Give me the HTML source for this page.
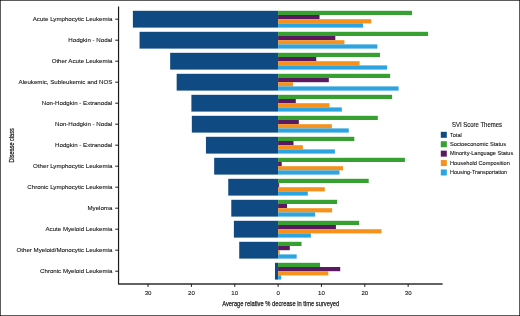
<!DOCTYPE html>
<html lang="en">
<head>
<meta charset="utf-8">
<title>SVI Score Themes</title>
<style>html,body{margin:0;padding:0;background:#fff;overflow:hidden}body{width:520px;height:316px;position:relative}</style>
</head>
<body>
<svg width="520" height="316" viewBox="0 0 520 316" style="position:absolute;left:0;top:0" font-family="'Liberation Sans', sans-serif">
<rect x="0" y="0" width="520" height="316" fill="#fff"/>
<rect x="132.88" y="10.80" width="145.22" height="16.80" fill="#0f4b82"/>
<rect x="278.10" y="10.80" width="133.95" height="4.20" fill="#36a030"/>
<rect x="278.10" y="15.00" width="41.44" height="4.20" fill="#591a60"/>
<rect x="278.10" y="19.20" width="93.20" height="4.20" fill="#f6921c"/>
<rect x="278.10" y="23.40" width="84.97" height="4.20" fill="#2ca4df"/>
<rect x="139.55" y="31.80" width="138.55" height="16.80" fill="#0f4b82"/>
<rect x="278.10" y="31.80" width="149.99" height="4.20" fill="#36a030"/>
<rect x="278.10" y="36.00" width="57.22" height="4.20" fill="#591a60"/>
<rect x="278.10" y="40.20" width="66.33" height="4.20" fill="#f6921c"/>
<rect x="278.10" y="44.40" width="99.27" height="4.20" fill="#2ca4df"/>
<rect x="170.16" y="52.80" width="107.94" height="16.80" fill="#0f4b82"/>
<rect x="278.10" y="52.80" width="101.87" height="4.20" fill="#36a030"/>
<rect x="278.10" y="57.00" width="38.15" height="4.20" fill="#591a60"/>
<rect x="278.10" y="61.20" width="81.50" height="4.20" fill="#f6921c"/>
<rect x="278.10" y="65.40" width="109.03" height="4.20" fill="#2ca4df"/>
<rect x="176.66" y="73.80" width="101.44" height="16.80" fill="#0f4b82"/>
<rect x="278.10" y="73.80" width="112.06" height="4.20" fill="#36a030"/>
<rect x="278.10" y="78.00" width="50.72" height="4.20" fill="#591a60"/>
<rect x="278.10" y="82.20" width="14.91" height="4.20" fill="#f6921c"/>
<rect x="278.10" y="86.40" width="120.51" height="4.20" fill="#2ca4df"/>
<rect x="191.40" y="94.80" width="86.70" height="16.80" fill="#0f4b82"/>
<rect x="278.10" y="94.80" width="114.01" height="4.20" fill="#36a030"/>
<rect x="278.10" y="99.00" width="17.69" height="4.20" fill="#591a60"/>
<rect x="278.10" y="103.20" width="51.37" height="4.20" fill="#f6921c"/>
<rect x="278.10" y="107.40" width="63.72" height="4.20" fill="#2ca4df"/>
<rect x="191.83" y="115.80" width="86.27" height="16.80" fill="#0f4b82"/>
<rect x="278.10" y="115.80" width="99.70" height="4.20" fill="#36a030"/>
<rect x="278.10" y="120.00" width="20.72" height="4.20" fill="#591a60"/>
<rect x="278.10" y="124.20" width="53.75" height="4.20" fill="#f6921c"/>
<rect x="278.10" y="128.40" width="70.66" height="4.20" fill="#2ca4df"/>
<rect x="205.92" y="136.80" width="72.18" height="16.80" fill="#0f4b82"/>
<rect x="278.10" y="136.80" width="76.21" height="4.20" fill="#36a030"/>
<rect x="278.10" y="141.00" width="15.39" height="4.20" fill="#591a60"/>
<rect x="278.10" y="145.20" width="24.80" height="4.20" fill="#f6921c"/>
<rect x="278.10" y="149.40" width="56.79" height="4.20" fill="#2ca4df"/>
<rect x="214.16" y="157.80" width="63.94" height="16.80" fill="#0f4b82"/>
<rect x="278.10" y="157.80" width="126.80" height="4.20" fill="#36a030"/>
<rect x="278.10" y="162.00" width="3.64" height="4.20" fill="#591a60"/>
<rect x="278.10" y="166.20" width="64.89" height="4.20" fill="#f6921c"/>
<rect x="278.10" y="170.40" width="61.38" height="4.20" fill="#2ca4df"/>
<rect x="228.25" y="178.80" width="49.85" height="16.80" fill="#0f4b82"/>
<rect x="278.10" y="178.80" width="90.60" height="4.20" fill="#36a030"/>
<rect x="278.10" y="183.00" width="1.08" height="4.20" fill="#591a60"/>
<rect x="278.10" y="187.20" width="46.69" height="4.20" fill="#f6921c"/>
<rect x="278.10" y="191.40" width="29.69" height="4.20" fill="#2ca4df"/>
<rect x="231.28" y="199.80" width="46.82" height="16.80" fill="#0f4b82"/>
<rect x="278.10" y="199.80" width="58.96" height="4.20" fill="#36a030"/>
<rect x="278.10" y="204.00" width="8.93" height="4.20" fill="#591a60"/>
<rect x="278.10" y="208.20" width="54.01" height="4.20" fill="#f6921c"/>
<rect x="278.10" y="212.40" width="37.06" height="4.20" fill="#2ca4df"/>
<rect x="233.88" y="220.80" width="44.22" height="16.80" fill="#0f4b82"/>
<rect x="278.10" y="220.80" width="81.06" height="4.20" fill="#36a030"/>
<rect x="278.10" y="225.00" width="57.83" height="4.20" fill="#591a60"/>
<rect x="278.10" y="229.20" width="103.39" height="4.20" fill="#f6921c"/>
<rect x="278.10" y="233.40" width="32.77" height="4.20" fill="#2ca4df"/>
<rect x="239.22" y="241.80" width="38.88" height="16.80" fill="#0f4b82"/>
<rect x="278.10" y="241.80" width="23.41" height="4.20" fill="#36a030"/>
<rect x="278.10" y="246.00" width="11.70" height="4.20" fill="#591a60"/>
<rect x="278.10" y="250.20" width="1.60" height="4.20" fill="#f6921c"/>
<rect x="278.10" y="254.40" width="18.55" height="4.20" fill="#2ca4df"/>
<rect x="274.98" y="262.80" width="3.12" height="16.80" fill="#0f4b82"/>
<rect x="278.10" y="262.80" width="41.88" height="4.20" fill="#36a030"/>
<rect x="278.10" y="267.00" width="62.12" height="4.20" fill="#591a60"/>
<rect x="278.10" y="271.20" width="50.20" height="4.20" fill="#f6921c"/>
<rect x="278.10" y="275.40" width="3.12" height="4.20" fill="#2ca4df"/>
<path d="M118.55 6.5V284.0" fill="none" stroke="#1c1c1c" stroke-width="1.2"/>
<path d="M118.0 284.0H442.6" fill="none" stroke="#2e2e2e" stroke-width="1.35"/>
<path d="M115.25 19.20H118.55" stroke="#1c1c1c" stroke-width="1"/>
<text x="112.4" y="21.40" text-anchor="end" font-size="6.15" fill="#151515" stroke="#151515" stroke-width="0.1">Acute Lymphocytic Leukemia</text>
<path d="M115.25 40.20H118.55" stroke="#1c1c1c" stroke-width="1"/>
<text x="112.4" y="42.40" text-anchor="end" font-size="6.15" fill="#151515" stroke="#151515" stroke-width="0.1">Hodgkin - Nodal</text>
<path d="M115.25 61.20H118.55" stroke="#1c1c1c" stroke-width="1"/>
<text x="112.4" y="63.40" text-anchor="end" font-size="6.15" fill="#151515" stroke="#151515" stroke-width="0.1">Other Acute Leukemia</text>
<path d="M115.25 82.20H118.55" stroke="#1c1c1c" stroke-width="1"/>
<text x="112.4" y="84.40" text-anchor="end" font-size="6.15" fill="#151515" stroke="#151515" stroke-width="0.1">Aleukemic, Subleukemic and NOS</text>
<path d="M115.25 103.20H118.55" stroke="#1c1c1c" stroke-width="1"/>
<text x="112.4" y="105.40" text-anchor="end" font-size="6.15" fill="#151515" stroke="#151515" stroke-width="0.1">Non-Hodgkin - Extranodal</text>
<path d="M115.25 124.20H118.55" stroke="#1c1c1c" stroke-width="1"/>
<text x="112.4" y="126.40" text-anchor="end" font-size="6.15" fill="#151515" stroke="#151515" stroke-width="0.1">Non-Hodgkin - Nodal</text>
<path d="M115.25 145.20H118.55" stroke="#1c1c1c" stroke-width="1"/>
<text x="112.4" y="147.40" text-anchor="end" font-size="6.15" fill="#151515" stroke="#151515" stroke-width="0.1">Hodgkin - Extranodal</text>
<path d="M115.25 166.20H118.55" stroke="#1c1c1c" stroke-width="1"/>
<text x="112.4" y="168.40" text-anchor="end" font-size="6.15" fill="#151515" stroke="#151515" stroke-width="0.1">Other Lymphocytic Leukemia</text>
<path d="M115.25 187.20H118.55" stroke="#1c1c1c" stroke-width="1"/>
<text x="112.4" y="189.40" text-anchor="end" font-size="6.15" fill="#151515" stroke="#151515" stroke-width="0.1">Chronic Lymphocytic Leukemia</text>
<path d="M115.25 208.20H118.55" stroke="#1c1c1c" stroke-width="1"/>
<text x="112.4" y="210.40" text-anchor="end" font-size="6.15" fill="#151515" stroke="#151515" stroke-width="0.1">Myeloma</text>
<path d="M115.25 229.20H118.55" stroke="#1c1c1c" stroke-width="1"/>
<text x="112.4" y="231.40" text-anchor="end" font-size="6.15" fill="#151515" stroke="#151515" stroke-width="0.1">Acute Myeloid Leukemia</text>
<path d="M115.25 250.20H118.55" stroke="#1c1c1c" stroke-width="1"/>
<text x="112.4" y="252.40" text-anchor="end" font-size="6.15" fill="#151515" stroke="#151515" stroke-width="0.1">Other Myeloid/Monocytic Leukemia</text>
<path d="M115.25 271.20H118.55" stroke="#1c1c1c" stroke-width="1"/>
<text x="112.4" y="273.40" text-anchor="end" font-size="6.15" fill="#151515" stroke="#151515" stroke-width="0.1">Chronic Myeloid Leukemia</text>
<path d="M148.05 284.0V286.9" stroke="#1c1c1c" stroke-width="1"/>
<text x="148.05" y="295.3" text-anchor="middle" font-size="6.1" fill="#151515" stroke="#151515" stroke-width="0.1">30</text>
<path d="M191.40 284.0V286.9" stroke="#1c1c1c" stroke-width="1"/>
<text x="191.40" y="295.3" text-anchor="middle" font-size="6.1" fill="#151515" stroke="#151515" stroke-width="0.1">20</text>
<path d="M234.75 284.0V286.9" stroke="#1c1c1c" stroke-width="1"/>
<text x="234.75" y="295.3" text-anchor="middle" font-size="6.1" fill="#151515" stroke="#151515" stroke-width="0.1">10</text>
<path d="M278.10 284.0V286.9" stroke="#1c1c1c" stroke-width="1"/>
<text x="278.10" y="295.3" text-anchor="middle" font-size="6.1" fill="#151515" stroke="#151515" stroke-width="0.1">0</text>
<path d="M321.45 284.0V286.9" stroke="#1c1c1c" stroke-width="1"/>
<text x="321.45" y="295.3" text-anchor="middle" font-size="6.1" fill="#151515" stroke="#151515" stroke-width="0.1">10</text>
<path d="M364.80 284.0V286.9" stroke="#1c1c1c" stroke-width="1"/>
<text x="364.80" y="295.3" text-anchor="middle" font-size="6.1" fill="#151515" stroke="#151515" stroke-width="0.1">20</text>
<path d="M408.15 284.0V286.9" stroke="#1c1c1c" stroke-width="1"/>
<text x="408.15" y="295.3" text-anchor="middle" font-size="6.1" fill="#151515" stroke="#151515" stroke-width="0.1">30</text>
<text x="280.7" y="306.3" text-anchor="middle" font-size="7.8" fill="#1c1c1c" stroke="#1c1c1c" stroke-width="0.25" textLength="117" lengthAdjust="spacingAndGlyphs">Average relative % decrease in time surveyed</text>
<text transform="translate(13.6 145.4) rotate(-90)" text-anchor="middle" font-size="7.7" fill="#1c1c1c" stroke="#1c1c1c" stroke-width="0.25" textLength="34.2" lengthAdjust="spacingAndGlyphs">Disease class</text>
<text x="477" y="127.0" text-anchor="middle" font-size="6.4" fill="#151515" stroke="#151515" stroke-width="0.12" textLength="49.9" lengthAdjust="spacingAndGlyphs">SVI Score Themes</text>
<rect x="440.8" y="131.80" width="6" height="6" fill="#0f4b82"/>
<text x="450" y="136.55" font-size="5.75" fill="#151515" stroke="#151515" stroke-width="0.1" textLength="11.7" lengthAdjust="spacingAndGlyphs">Total</text>
<rect x="440.8" y="141.22" width="6" height="6" fill="#36a030"/>
<text x="450" y="145.97" font-size="5.75" fill="#151515" stroke="#151515" stroke-width="0.1" textLength="56.1" lengthAdjust="spacingAndGlyphs">Socioeconomic Status</text>
<rect x="440.8" y="150.64" width="6" height="6" fill="#591a60"/>
<text x="450" y="155.39" font-size="5.75" fill="#151515" stroke="#151515" stroke-width="0.1" textLength="63.2" lengthAdjust="spacingAndGlyphs">Minority-Language Status</text>
<rect x="440.8" y="160.06" width="6" height="6" fill="#f6921c"/>
<text x="450" y="164.81" font-size="5.75" fill="#151515" stroke="#151515" stroke-width="0.1" textLength="59.9" lengthAdjust="spacingAndGlyphs">Household Composition</text>
<rect x="440.8" y="169.48" width="6" height="6" fill="#2ca4df"/>
<text x="450" y="174.23" font-size="5.75" fill="#151515" stroke="#151515" stroke-width="0.1" textLength="57.1" lengthAdjust="spacingAndGlyphs">Housing-Transportation</text>
<rect x="0.5" y="0.5" width="519" height="315" fill="none" stroke="#5c5c5c" stroke-width="1"/>
<path d="M0 0h1v1h-1zM519 0h1v1h-1zM0 315h1v1h-1zM519 315h1v1h-1z" fill="#222"/>
</svg>
</body>
</html>
